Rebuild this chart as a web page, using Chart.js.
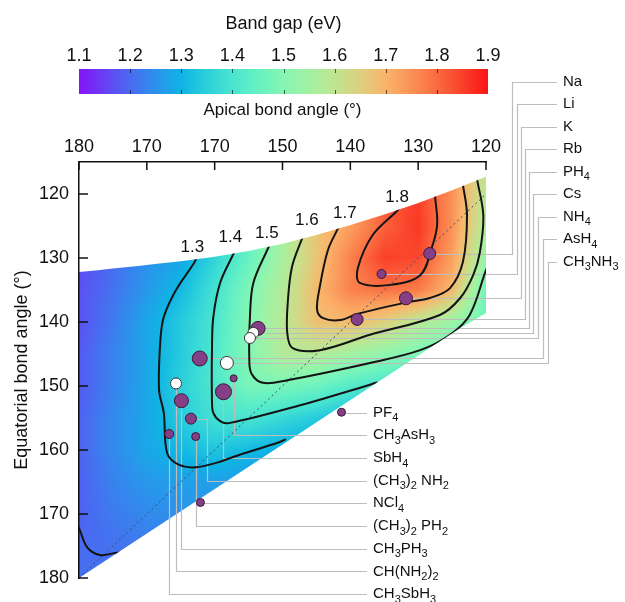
<!DOCTYPE html>
<html>
<head>
<meta charset="utf-8">
<script src="https://cdn.jsdelivr.net/npm/chart.js@4.4.1/dist/chart.umd.min.js"></script>
<style>
  html, body { margin: 0; padding: 0; background: #fff; }
  #wrap { width: 625px; height: 602px; }
</style>
</head>
<body>
<div id="wrap"><canvas id="myChart"></canvas></div>
<script>
var FONT = "'Liberation Sans', Arial, Helvetica, sans-serif";

// axes
var apicalTicks = [180, 170, 160, 150, 140, 130, 120];
var apicalTickLabels = ["180", "170", "170", "150", "140", "130", "120"];
var equatorialTicks = [120, 130, 140, 150, 160, 170, 180];
var bandGapTicks = [1.1, 1.2, 1.3, 1.4, 1.5, 1.6, 1.7, 1.8, 1.9];

// band gap surface (rows = equatorial, columns = apical)
var gridApical = [180, 175, 170, 165, 160, 155, 150, 145, 140, 135, 130, 125, 120];
var gridEquatorial = [115, 120, 125, 130, 135, 140, 145, 150, 155, 160, 165, 170, 175, 180];
var bandGap = [
  [1.15, 1.19, 1.24, 1.29, 1.36, 1.45, 1.55, 1.66, 1.74, 1.81, 1.84, 1.76, 1.60],
  [1.15, 1.19, 1.24, 1.29, 1.36, 1.45, 1.55, 1.66, 1.74, 1.82, 1.85, 1.75, 1.59],
  [1.16, 1.20, 1.24, 1.29, 1.36, 1.45, 1.56, 1.67, 1.73, 1.81, 1.86, 1.75, 1.57],
  [1.16, 1.20, 1.25, 1.28, 1.36, 1.45, 1.56, 1.67, 1.77, 1.85, 1.84, 1.73, 1.53],
  [1.17, 1.21, 1.26, 1.31, 1.39, 1.49, 1.58, 1.69, 1.77, 1.79, 1.78, 1.69, 1.47],
  [1.17, 1.22, 1.28, 1.34, 1.40, 1.50, 1.59, 1.68, 1.69, 1.65, 1.59, 1.54, 1.46],
  [1.18, 1.23, 1.28, 1.34, 1.41, 1.50, 1.58, 1.58, 1.55, 1.52, 1.49, 1.44, 1.40],
  [1.18, 1.23, 1.28, 1.35, 1.41, 1.48, 1.48, 1.46, 1.42, 1.39, 1.36, 1.33, 1.30],
  [1.19, 1.24, 1.28, 1.34, 1.39, 1.40, 1.37, 1.34, 1.31, 1.28, 1.25, 1.22, 1.20],
  [1.19, 1.24, 1.28, 1.31, 1.33, 1.31, 1.29, 1.27, 1.25, 1.22, 1.20, 1.18, 1.16],
  [1.19, 1.23, 1.26, 1.27, 1.27, 1.26, 1.25, 1.23, 1.21, 1.19, 1.17, 1.15, 1.13],
  [1.19, 1.22, 1.24, 1.25, 1.25, 1.24, 1.23, 1.21, 1.19, 1.17, 1.15, 1.13, 1.11],
  [1.20, 1.21, 1.22, 1.23, 1.23, 1.22, 1.21, 1.19, 1.17, 1.15, 1.13, 1.11, 1.10],
  [1.21, 1.21, 1.21, 1.22, 1.22, 1.21, 1.20, 1.18, 1.16, 1.14, 1.12, 1.10, 1.10]
];

// outline of the computed region: curved top edge, then straight lower edge
var topEdgeApical =     [180, 170, 160, 150, 140, 130, 120];
var topEdgeEquatorial = [132.2, 131.1, 129.9, 127.9, 124.9, 121.5, 117.3];
var lowerEdgeApical =     [120, 124.3, 180];
var lowerEdgeEquatorial = [138.6, 141.3, 180];

// contour lines [apical, equatorial]
var contourLevels = ["1.2", "1.3", "1.4", "1.5", "1.6", "1.7", "1.8"];
var contour12 = [[180.5,171.5],[180,172.2],[178.8,175.2],[176.9,176.4],[174.7,176.1],[173.5,176]];
var contour13 = [[162.5,129.5],[163.0,130.7],[165.7,135.0],[167.5,139.2],[168.0,142.8],[168.2,150.6],[167.5,154.2],[167.0,160.5],[165.3,162.3],[162.8,162.7],[159.4,161.9],[157.3,161.1],[150.4,158.75],[149.5,158.3]];
var contour14 = [[156.8,128.5],[157.3,129.5],[159.2,133.9],[160.2,139.2],[160.4,144.4],[160.4,152.2],[160.2,154.2],[159.2,155.5],[157.9,155.8],[147.4,153.0],[137.1,149.8],[136,149.4]];
var contour15 = [[151.6,127.3],[152.1,128.4],[154.3,133.9],[154.8,139.2],[154.9,145.5],[154.6,148.0],[152.9,149.5],[149.3,149.1],[137.1,146.4],[129.7,144.4],[125.3,142.0],[122.4,138.9],[120,131.9],[119.5,130.9]];
var contour16 = [[146.7,125.8],[147.1,126.9],[148.6,131.4],[149.2,136.6],[149.3,141.7],[148.5,144.1],[144.5,144.4],[137.1,142.0],[126.8,138.9],[123.8,136.25],[121.9,132.7],[120.9,129.1],[120.4,123.3],[121.3,117.8],[121.5,116.5]];
var contour17 = [[141.4,124.2],[141.8,125.3],[143.3,128.75],[144.5,134.5],[144.9,138.1],[144.0,139.4],[141.5,139.7],[139.0,138.75],[131.6,136.9],[128.3,136.25],[125.3,134.7],[123.4,130.6],[122.8,123.3],[123.4,118.6],[123.6,117.5]];
var contour18 = [[132.4,121.5],[133.0,122.5],[136.7,126.4],[138.9,131.6],[138.6,133.9],[134.1,134.2],[129.7,132.7],[128.0,128.4],[127.2,124.8],[127.5,120.5],[127.6,119.5]];
var contourLines = [contour12, contour13, contour14, contour15, contour16, contour17, contour18];
var contourLabelApical =     [null, 163.3, 157.7, 152.3, 146.4, 140.8, 133.1];
var contourLabelEquatorial = [null, 128.4, 126.7, 126.1, 124.1, 123.0, 120.5];

// compounds
var compoundLabels = ["Na", "Li", "K", "Rb", "PH_4", "Cs", "NH_4", "AsH_4", "CH_3NH_3",
  "PF_4", "CH_3AsH_3", "SbH_4", "(CH_3)_2 NH_2", "NCl_4", "(CH_3)_2 PH_2", "CH_3PH_3", "CH(NH_2)_2", "CH_3SbH_3"];
var compoundApical =     [128.3, 135.4, 131.8, 139.0, 153.6, 154.3, 154.8, 162.2, 158.2,
  141.3, 157.2, 158.7, 163.5, 162.1, 162.8, 164.9, 165.7, 166.7];
var compoundEquatorial = [129.3, 132.5, 136.3, 139.6, 141.0, 141.7, 142.5, 145.7, 146.4,
  154.1, 148.8, 150.9, 155.1, 168.2, 157.9, 152.3, 149.6, 157.5];
var compoundSize = [6, 4.5, 6.5, 6, 7, 5.5, 5.5, 7.5, 6.5, 4, 3.5, 8, 5.5, 4, 4, 7, 5.5, 4.5];
var compoundHollow = [0, 0, 0, 0, 0, 1, 1, 0, 1, 0, 0, 0, 0, 0, 0, 0, 1, 0];

function rainbow(t) {
  t = Math.max(0, Math.min(1, t));
  var r = Math.min(1, Math.abs(2 * t - 0.5));
  var g = Math.sin(Math.PI * t);
  var b = Math.cos(Math.PI * t / 2);
  // picture is a bit washed out
  return [Math.round(r * 235 + 15), Math.round(g * 225 + 20), Math.round(b * 225 + 20)];
}

function bandGapAt(a, e) {
  var ni = gridApical.length, nj = gridEquatorial.length;
  var fi = (gridApical[0] - a) / (gridApical[0] - gridApical[1]);
  var fj = (e - gridEquatorial[0]) / (gridEquatorial[1] - gridEquatorial[0]);
  fi = Math.max(0, Math.min(ni - 1.0001, fi));
  fj = Math.max(0, Math.min(nj - 1.0001, fj));
  var i = Math.floor(fi), j = Math.floor(fj), u = fi - i, v = fj - j;
  var r0 = bandGap[j], r1 = bandGap[j + 1];
  return (r0[i] * (1 - u) + r0[i + 1] * u) * (1 - v) + (r1[i] * (1 - u) + r1[i + 1] * u) * v;
}

function regionPath(ctx, xs, ys) {
  var pts = topEdgeApical.map(function (a, k) {
    return [xs.getPixelForValue(a), ys.getPixelForValue(topEdgeEquatorial[k])];
  });
  ctx.beginPath();
  ctx.moveTo(pts[0][0], pts[0][1]);
  for (var k = 1; k < pts.length - 1; k++) {
    ctx.quadraticCurveTo(pts[k][0], pts[k][1], (pts[k][0] + pts[k + 1][0]) / 2, (pts[k][1] + pts[k + 1][1]) / 2);
  }
  ctx.lineTo(pts[pts.length - 1][0], pts[pts.length - 1][1]);
  for (var m = 0; m < lowerEdgeApical.length; m++) {
    ctx.lineTo(xs.getPixelForValue(lowerEdgeApical[m]), ys.getPixelForValue(lowerEdgeEquatorial[m]));
  }
  ctx.closePath();
}

function drawFormula(ctx, text, x, y, size) {
  var parts = text.split(/(_\d+)/);
  var cx = x;
  for (var i = 0; i < parts.length; i++) {
    var p = parts[i];
    if (!p) continue;
    if (p[0] === "_") {
      ctx.font = Math.round(size * 0.72) + "px " + FONT;
      ctx.fillText(p.slice(1), cx, y + size * 0.38);
      cx += ctx.measureText(p.slice(1)).width;
    } else {
      ctx.font = size + "px " + FONT;
      ctx.fillText(p, cx, y);
      cx += ctx.measureText(p).width;
    }
  }
}

// leader line layout (pixels)
var rightElbowX = [512, 517, 521, 525, 529, 533, 538, 543, 548];
function labelPos(k) {
  if (k < 9) return { x: 563, y: 81.5 + 22.5 * k, end: 557, elbow: rightElbowX[k] };
  var i = k - 9;
  return { x: 373, y: 412.5 + 22.7 * i, end: 367, elbow: compoundLabels[k] === "(CH_3)_2 NH_2" ? 207 : null };
}

var mapPlugin = {
  id: "bandGapMap",
  beforeDatasetsDraw: function (chart) {
    var ctx = chart.ctx, area = chart.chartArea;
    var xs = chart.scales.x, ys = chart.scales.y;
    var w = Math.round(area.right - area.left), h = Math.round(area.bottom - area.top);
    var off = document.createElement("canvas");
    off.width = w; off.height = h;
    var octx = off.getContext("2d");
    var img = octx.createImageData(w, h);
    var lo = bandGapTicks[0], hi = bandGapTicks[bandGapTicks.length - 1];
    for (var py = 0; py < h; py++) {
      var e = ys.getValueForPixel(area.top + py + 0.5);
      for (var px = 0; px < w; px++) {
        var a = xs.getValueForPixel(area.left + px + 0.5);
        var c = rainbow((bandGapAt(a, e) - lo) / (hi - lo));
        var o = (py * w + px) * 4;
        img.data[o] = c[0]; img.data[o + 1] = c[1]; img.data[o + 2] = c[2]; img.data[o + 3] = 255;
      }
    }
    octx.putImageData(img, 0, 0);
    ctx.save();
    regionPath(ctx, xs, ys);
    ctx.clip();
    ctx.drawImage(off, area.left, area.top);
    ctx.restore();

    // leader lines
    ctx.save();
    ctx.strokeStyle = "#bdbdbd";
    ctx.lineWidth = 1.2;
    for (var k = 0; k < compoundLabels.length; k++) {
      var L = labelPos(k);
      var pX = xs.getPixelForValue(compoundApical[k]);
      var pY = Math.round(ys.getPixelForValue(compoundEquatorial[k])) + 0.5;
      var ex = (L.elbow === null ? Math.round(pX) : L.elbow) + 0.5;
      var ly = Math.round(L.y) + 0.5;
      ctx.beginPath();
      ctx.moveTo(pX, pY);
      ctx.lineTo(ex, pY);
      ctx.lineTo(ex, ly);
      ctx.lineTo(L.end, ly);
      ctx.stroke();
    }
    ctx.restore();
  },
  beforeDatasetDraw: function (chart, args) {
    var ds = chart.data.datasets[args.index];
    if (!ds.regionClip) return;
    chart.ctx.save();
    regionPath(chart.ctx, chart.scales.x, chart.scales.y);
    chart.ctx.clip();
  },
  afterDatasetDraw: function (chart, args) {
    var ds = chart.data.datasets[args.index];
    if (!ds.regionClip) return;
    chart.ctx.restore();
  },
  afterDraw: function (chart) {
    var ctx = chart.ctx, area = chart.chartArea;
    var xs = chart.scales.x, ys = chart.scales.y;
    ctx.save();
    ctx.fillStyle = "#111";
    ctx.strokeStyle = "#111";

    // inward ticks
    ctx.lineWidth = 1.5;
    apicalTicks.forEach(function (v) {
      var px = xs.getPixelForValue(v);
      ctx.beginPath(); ctx.moveTo(px, area.top); ctx.lineTo(px, area.top + 8); ctx.stroke();
    });
    equatorialTicks.forEach(function (v) {
      var py = ys.getPixelForValue(v);
      ctx.beginPath(); ctx.moveTo(area.left, py); ctx.lineTo(area.left + 9, py); ctx.stroke();
    });

    // colour bar
    var x0 = area.left, x1 = area.right + 2, y0 = 69, y1 = 94;
    var lo = bandGapTicks[0], hi = bandGapTicks[bandGapTicks.length - 1];
    var grad = ctx.createLinearGradient(x0, 0, x1, 0);
    for (var s = 0; s <= 40; s++) {
      var c = rainbow(s / 40);
      grad.addColorStop(s / 40, "rgb(" + c[0] + "," + c[1] + "," + c[2] + ")");
    }
    ctx.fillStyle = grad;
    ctx.fillRect(x0, y0, x1 - x0, y1 - y0);
    ctx.strokeStyle = "rgba(0,0,0,0.6)";
    ctx.lineWidth = 1;
    ctx.fillStyle = "#111";
    ctx.font = "18px " + FONT;
    ctx.textAlign = "center";
    ctx.textBaseline = "middle";
    bandGapTicks.forEach(function (v) {
      var px = x0 + (v - lo) / (hi - lo) * (x1 - x0);
      if (v > lo && v < hi) {
        ctx.beginPath();
        ctx.moveTo(Math.round(px) + 0.5, y0); ctx.lineTo(Math.round(px) + 0.5, y0 + 4);
        ctx.moveTo(Math.round(px) + 0.5, y1 - 4); ctx.lineTo(Math.round(px) + 0.5, y1);
        ctx.stroke();
      }
      ctx.fillText(v.toFixed(1), px, 56);
    });
    ctx.fillText("Band gap (eV)", (x0 + x1) / 2, 24);

    // contour labels
    ctx.font = "17px " + FONT;
    for (var k = 0; k < contourLevels.length; k++) {
      if (contourLabelApical[k] === null) continue;
      ctx.fillText(contourLevels[k], xs.getPixelForValue(contourLabelApical[k]), ys.getPixelForValue(contourLabelEquatorial[k]));
    }

    // compound labels
    ctx.textAlign = "left";
    for (var m = 0; m < compoundLabels.length; m++) {
      var L = labelPos(m);
      drawFormula(ctx, compoundLabels[m], L.x, L.y, 15);
    }
    ctx.restore();
  }
};

var datasets = [{
  label: "compounds",
  data: compoundApical.map(function (a, i) { return { x: a, y: compoundEquatorial[i] }; }),
  pointRadius: compoundSize,
  pointBackgroundColor: compoundHollow.map(function (h) { return h ? "#ffffff" : "#843f86"; }),
  pointBorderColor: compoundHollow.map(function (h) { return h ? "#3a3a3a" : "#3b1838"; }),
  pointBorderWidth: 1,
  showLine: false
}];
contourLines.forEach(function (line, i) {
  datasets.push({
    label: "contour " + contourLevels[i],
    data: line.map(function (p) { return { x: p[0], y: p[1] }; }),
    showLine: true,
    pointRadius: 0,
    borderColor: "#141414",
    borderWidth: 2,
    tension: 0.35,
    regionClip: true
  });
});
datasets.push({
  label: "diagonal",
  data: [{ x: apicalTicks[0], y: equatorialTicks[equatorialTicks.length - 1] }, { x: apicalTicks[apicalTicks.length - 1], y: equatorialTicks[0] }],
  showLine: true,
  pointRadius: 0,
  borderColor: "#3d4b6b",
  borderWidth: 1,
  borderDash: [2, 3],
  regionClip: true
});

var ctx = document.getElementById("myChart");
Chart.defaults.font.family = FONT;
var myChart = new Chart(ctx, {
  type: "scatter",
  data: { datasets: datasets },
  options: {
    responsive: true,
    maintainAspectRatio: false,
    animation: false,
    events: [],
    layout: { padding: { top: 0, left: 0, right: 139, bottom: 24 } },
    plugins: { legend: { display: false }, tooltip: { enabled: false } },
    scales: {
      x: {
        type: "linear",
        position: "top",
        reverse: true,
        min: 120,
        max: 180,
        afterBuildTicks: function (s) { s.ticks = apicalTicks.map(function (v) { return { value: v }; }); },
        afterFit: function (s) { s.height = 162; },
        ticks: {
          autoSkip: false, maxRotation: 0, padding: 4, color: "#111",
          font: { size: 18 },
          callback: function (v) { return apicalTickLabels[apicalTicks.indexOf(v)]; }
        },
        grid: { display: false, drawTicks: false },
        border: { display: true, color: "#111", width: 1.5, z: 1 },
        title: { display: true, text: "Apical bond angle (°)", color: "#111", font: { size: 17 }, padding: { top: 100, bottom: 0 } }
      },
      y: {
        type: "linear",
        reverse: true,
        min: 115,
        max: 180,
        afterBuildTicks: function (s) { s.ticks = equatorialTicks.map(function (v) { return { value: v }; }); },
        afterFit: function (s) { s.width = 79; },
        ticks: { padding: 10, color: "#111", font: { size: 18 } },
        grid: { display: false, drawTicks: false },
        border: { display: true, color: "#111", width: 1.5, z: 1 },
        title: { display: true, text: "Equatorial bond angle (°)", color: "#111", font: { size: 18 }, padding: { top: 11, bottom: 0 } }
      }
    }
  },
  plugins: [mapPlugin]
});
</script>
</body>
</html>
